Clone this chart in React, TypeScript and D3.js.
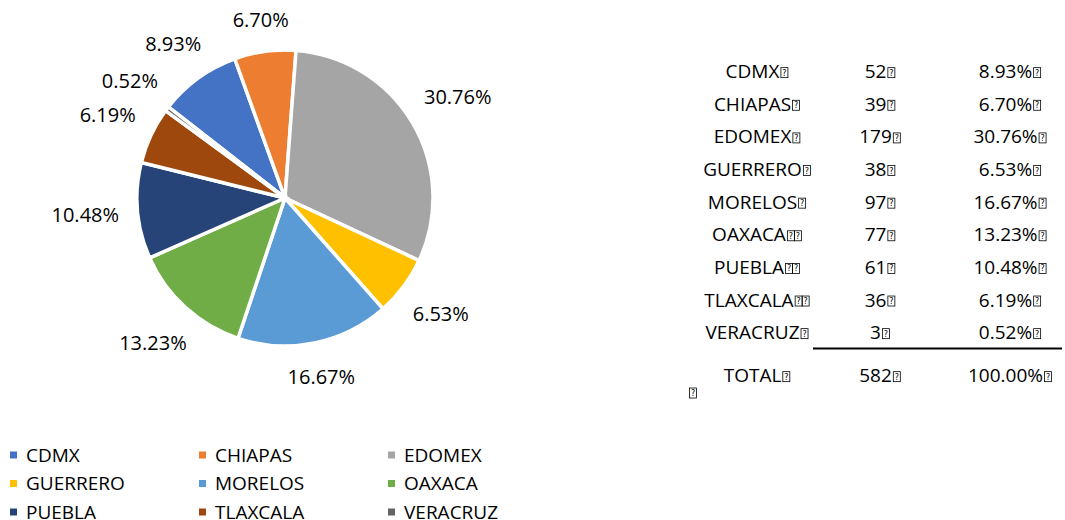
import React, { useEffect, useRef } from 'react';
import * as d3 from 'd3';

const states = ['CDMX', 'CHIAPAS', 'EDOMEX', 'GUERRERO', 'MORELOS', 'OAXACA', 'PUEBLA', 'TLAXCALA', 'VERACRUZ'];
const counts = [52, 39, 179, 38, 97, 77, 61, 36, 3];
const percents = ['8.93%', '6.70%', '30.76%', '6.53%', '16.67%', '13.23%', '10.48%', '6.19%', '0.52%'];
const colors = ['#4472C4', '#ED7D31', '#A5A5A5', '#FFC000', '#5B9BD5', '#70AD47', '#264478', '#9E480E', '#636363'];
// unknown-glyph boxes that trail each state name in the table
const nameTofu = [1, 1, 1, 1, 1, 2, 2, 2, 1];
const totalLabel = 'TOTAL';
const totalCount = 582;
const totalPercent = '100.00%';

const FONT = '"Open Sans", "Liberation Sans", sans-serif';

const App = () => {
    const ref = useRef(null);

    useEffect(() => {
        if (!ref.current) return;
        const svg = d3.select(ref.current);
        svg.selectAll('*').remove();

        const cx = 285, cy = 198, r = 148;
        const start = -52 * Math.PI / 180;

        const pie = d3.pie<number>().sort(null).value(d => d)
            .startAngle(start).endAngle(start + 2 * Math.PI);
        const arcs = pie(counts);
        const arc = d3.arc<d3.PieArcDatum<number>>().innerRadius(0).outerRadius(r);

        const g = svg.append('g').attr('transform', `translate(${cx},${cy})`);
        g.selectAll('path.slice')
            .data(arcs)
            .enter()
            .append('path')
            .attr('class', 'slice')
            .attr('d', arc)
            .attr('fill', (d, i) => colors[i])
            .attr('stroke', '#fff')
            .attr('stroke-width', 3.5);

        // data labels, outside end
        const labelH = 20, gap = 18;
        g.selectAll('text.lbl')
            .data(arcs)
            .enter()
            .append('text')
            .attr('class', 'lbl')
            .attr('font-family', FONT)
            .attr('font-size', 20)
            .attr('fill', '#000')
            .attr('text-anchor', 'middle')
            .attr('dy', '0.35em')
            .text((d, i) => percents[i])
            .each(function (d) {
                const a = (d.startAngle + d.endAngle) / 2;
                const w = (this as SVGTextElement).getComputedTextLength();
                const s = Math.sin(a), c = Math.cos(a);
                const dist = r + gap + Math.abs(s) * w / 2 + Math.abs(c) * labelH / 2;
                d3.select(this).attr('x', s * dist).attr('y', -c * dist);
            });

        // legend
        const legendCol = d3.scaleLinear().domain([0, 1]).range([10, 199]);
        const legendRow = d3.scaleLinear().domain([0, 1]).range([455, 483.5]);
        const items = svg.append('g').selectAll('g.item')
            .data(states)
            .enter()
            .append('g')
            .attr('class', 'item')
            .attr('transform', (d, i) => `translate(${legendCol(i % 3)},${legendRow(Math.floor(i / 3))})`);
        items.append('rect')
            .attr('x', 0).attr('y', -3.5).attr('width', 7).attr('height', 7)
            .attr('fill', (d, i) => colors[i]);
        items.append('text')
            .attr('x', 16)
            .attr('dy', '0.35em')
            .attr('font-family', FONT)
            .attr('font-size', 19)
            .attr('fill', '#000')
            .text(d => d);

        // table
        const rowY = d3.scalePoint<string>().domain(states).range([71.5, 332.5]);
        const colX = [757, 880, 1010];
        const tg = svg.append('g').attr('font-family', FONT).attr('font-size', 19).attr('fill', '#000');

        const boxW = 8, boxH = 11, boxStep = 7;
        const tofu = (x: number, baseY: number) => {
            const b = tg.append('g').attr('transform', `translate(${x},${baseY - boxH})`);
            b.append('rect')
                .attr('x', 0.5).attr('y', 0.5).attr('width', boxW - 1).attr('height', boxH - 1)
                .attr('fill', 'none').attr('stroke', '#000').attr('stroke-width', 0.8);
            b.append('text')
                .attr('x', boxW / 2).attr('y', boxH - 2.5)
                .attr('text-anchor', 'middle')
                .attr('font-family', '"DejaVu Sans", sans-serif')
                .attr('font-size', 8)
                .text('?');
        };

        const cell = (x: number, y: number, txt: string, n: number) => {
            const t = tg.append('text').attr('y', y).attr('dy', '0.35em').text(txt);
            const tw = (t.node() as SVGTextElement).getComputedTextLength();
            const total = tw + 1 + boxW + boxStep * (n - 1);
            const x0 = x - total / 2;
            t.attr('x', x0);
            const base = y + 0.35 * 19;
            for (let k = 0; k < n; k++) tofu(x0 + tw + 1 + k * boxStep, base);
        };

        states.forEach((s, i) => {
            const y = rowY(s) as number;
            cell(colX[0], y, s, nameTofu[i]);
            cell(colX[1], y, String(counts[i]), 1);
            cell(colX[2], y, percents[i], 1);
        });
        const lastY = rowY(states[states.length - 1]) as number;
        const totalY = lastY + 43;
        cell(colX[0], totalY, totalLabel, 1);
        cell(colX[1], totalY, String(totalCount), 1);
        cell(colX[2], totalY, totalPercent, 1);

        // rule above the total row
        tg.append('line').attr('x1', 813).attr('x2', 937)
            .attr('y1', lastY + 16).attr('y2', lastY + 16)
            .attr('stroke', '#000').attr('stroke-width', 2.2);
        tg.append('line').attr('x1', 937).attr('x2', 1062)
            .attr('y1', lastY + 16).attr('y2', lastY + 16)
            .attr('stroke', '#000').attr('stroke-width', 1.8);

        // stray paragraph mark under the table
        tofu(689, totalY + 23);
    }, []);

    return (
        <svg
            ref={ref}
            width={1065}
            height={520}
            style={{ position: 'absolute', left: 0, top: 0, background: '#fff' }}
        />
    );
};

export default App;
